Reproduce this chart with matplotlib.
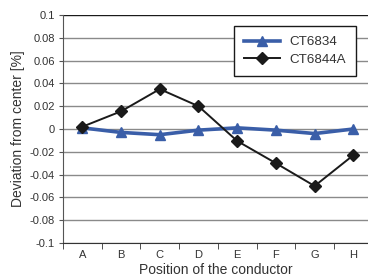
import matplotlib
matplotlib.use("Agg")
import matplotlib.pyplot as plt
from matplotlib.ticker import FixedLocator

plt.rcParams['font.family'] = ['Liberation Sans', 'DejaVu Sans']

categories = ['A', 'B', 'C', 'D', 'E', 'F', 'G', 'H']
ct6834 = [0.001, -0.003, -0.005, -0.001, 0.001, -0.001, -0.004, 0.0]
ct6844a = [0.002, 0.0155, 0.035, 0.02, -0.0105, -0.03, -0.05, -0.023]
yticks = [-0.1, -0.08, -0.06, -0.04, -0.02, 0, 0.02, 0.04, 0.06, 0.08, 0.1]
ytick_labels = ['-0.1', '-0.08', '-0.06', '-0.04', '-0.02', '0', '0.02', '0.04', '0.06', '0.08', '0.1']

fig = plt.figure(figsize=(3.68, 2.78), dpi=100)
ax = fig.add_axes([63/368, 1-243/278, 1-63/368, (243-15)/278])

x = list(range(len(categories)))
for yv in yticks:
    ax.axhline(yv, color='#1a1a1a' if yv == 0.1 else '#8a8a8a', lw=1.0, zorder=1)

ax.plot(x, ct6834, color='#3a5ea8', lw=2.6, marker='^', markersize=7.5,
        label='CT6834', zorder=3)
ax.plot(x, ct6844a, color='#1a1a1a', lw=1.4, marker='D', markersize=6,
        label='CT6844A', zorder=4)

ax.set_xlim(-0.5, 7.38)
ax.set_ylim(-0.1, 0.1)
ax.set_yticks(yticks)
ax.set_yticklabels(ytick_labels)
ax.set_xticks(x)
ax.set_xticklabels(categories)
ax.xaxis.set_minor_locator(FixedLocator([i + 0.5 for i in range(-1, 7)]))
ax.tick_params(axis='x', which='major', length=0, pad=5, labelsize=8, labelcolor='#333333')
ax.tick_params(axis='x', which='minor', length=4, direction='out', color='#333333')
ax.tick_params(axis='y', length=3, direction='out', pad=3, labelsize=8, labelcolor='#333333', color='#555555')

for s in ['top', 'right']:
    ax.spines[s].set_visible(False)
ax.spines['left'].set_color('#555555')
ax.spines['bottom'].set_color('#333333')

ax.set_xlabel('Position of the conductor', fontsize=10, color='#333333', labelpad=2)
ax.set_ylabel('Deviation from center [%]', fontsize=10, color='#333333', labelpad=3)

leg = ax.legend(loc='upper right', bbox_to_anchor=(356/368, 1-26/278), bbox_transform=fig.transFigure,
                fontsize=9.6, frameon=True, fancybox=False, edgecolor='#1a1a1a',
                handlelength=2.7, borderpad=0.75, labelspacing=0.4, handletextpad=0.7,
                borderaxespad=0, framealpha=1)
leg.get_frame().set_linewidth(1.0)
for t in leg.get_texts():
    t.set_color('#333333')

fig.savefig('out.png', dpi=100)
